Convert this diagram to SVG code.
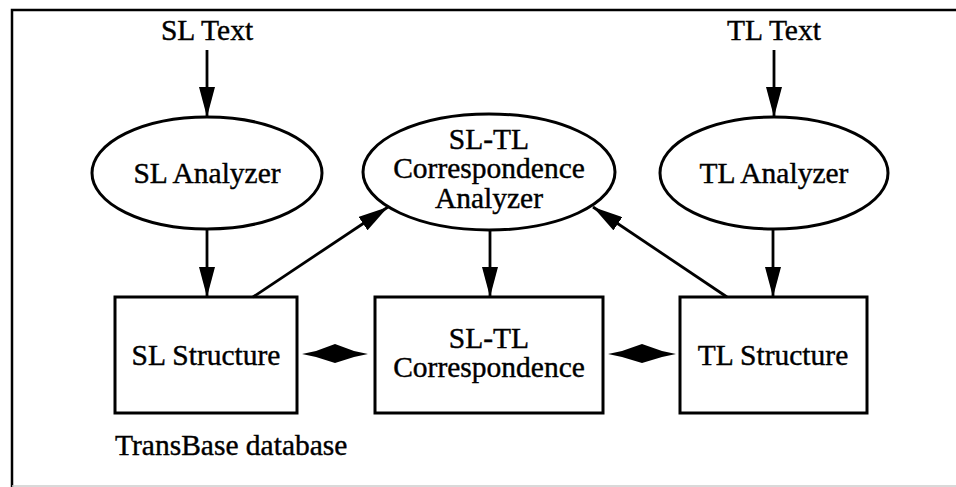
<svg xmlns="http://www.w3.org/2000/svg" width="956" height="487" viewBox="0 0 956 487">
  <style>
    text { font-family: "Liberation Serif", "Times New Roman", serif; font-size: 29.5px; fill: #000; stroke: #000; stroke-width: 0.4; text-anchor: middle; }
    .shape { fill: #fff; stroke: #000; stroke-width: 3; }
    .edge { fill: none; stroke: #000; stroke-width: 2.8; }
    .frame { fill: none; stroke: #000; stroke-width: 2.5; }
    .link { fill: #000; }
  </style>
  <defs>
    <marker id="arrow" viewBox="0 0 30 16" refX="30" refY="8" markerWidth="30" markerHeight="16" markerUnits="userSpaceOnUse" orient="auto">
      <path d="M0,0 L30,8 L0,16 Z" fill="#000"/>
    </marker>
  </defs>

  <!-- enclosing frame -->
  <g id="frame">
    <path class="frame" d="M12,487 L12,10 L956,10"/>
    <line x1="12" y1="486" x2="956" y2="486" stroke="#ccc" stroke-width="1.5"/>
  </g>

  <!-- input labels -->
  <g id="sl-text"><text x="207" y="40">SL Text</text></g>
  <g id="tl-text"><text x="774" y="40">TL Text</text></g>

  <!-- analyzers -->
  <g id="sl-analyzer">
    <ellipse class="shape" cx="207" cy="173" rx="115" ry="56"/>
    <text x="207" y="183">SL Analyzer</text>
  </g>
  <g id="corr-analyzer">
    <ellipse class="shape" cx="489" cy="172" rx="126" ry="58"/>
    <text x="489" y="149">SL-TL</text>
    <text x="489" y="178">Correspondence</text>
    <text x="489" y="208">Analyzer</text>
  </g>
  <g id="tl-analyzer">
    <ellipse class="shape" cx="774" cy="173" rx="114" ry="56"/>
    <text x="774" y="183">TL Analyzer</text>
  </g>

  <!-- structures -->
  <g id="sl-structure">
    <rect class="shape" x="115" y="297" width="182" height="116"/>
    <text x="206" y="365">SL Structure</text>
  </g>
  <g id="corr-structure">
    <rect class="shape" x="375" y="297" width="228" height="116"/>
    <text x="489" y="348">SL-TL</text>
    <text x="489" y="377">Correspondence</text>
  </g>
  <g id="tl-structure">
    <rect class="shape" x="680" y="297" width="187" height="116"/>
    <text x="773" y="365">TL Structure</text>
  </g>

  <g id="db-label"><text x="115" y="455" style="text-anchor:start">TransBase database</text></g>

  <!-- connectors -->
  <g id="connectors">
    <line class="edge" x1="207" y1="50" x2="207" y2="117" marker-end="url(#arrow)"/>
    <line class="edge" x1="774" y1="50" x2="774" y2="117" marker-end="url(#arrow)"/>
    <line class="edge" x1="207" y1="229" x2="207" y2="297" marker-end="url(#arrow)"/>
    <line class="edge" x1="773" y1="229" x2="773" y2="297" marker-end="url(#arrow)"/>
    <line class="edge" x1="490" y1="230" x2="490" y2="297" marker-end="url(#arrow)"/>
    <line class="edge" x1="253" y1="297" x2="388" y2="207" marker-end="url(#arrow)"/>
    <line class="edge" x1="727" y1="297" x2="593" y2="207" marker-end="url(#arrow)"/>
    <!-- links between stored structures -->
    <path class="link" d="M302,354 L316,351 L335,344 L354,351 L368,354 L354,357 L335,363 L316,357 Z"/>
    <path class="link" d="M608,354 L622,351 L642,344 L662,351 L676,354 L662,357 L642,363 L622,357 Z"/>
  </g>
</svg>
